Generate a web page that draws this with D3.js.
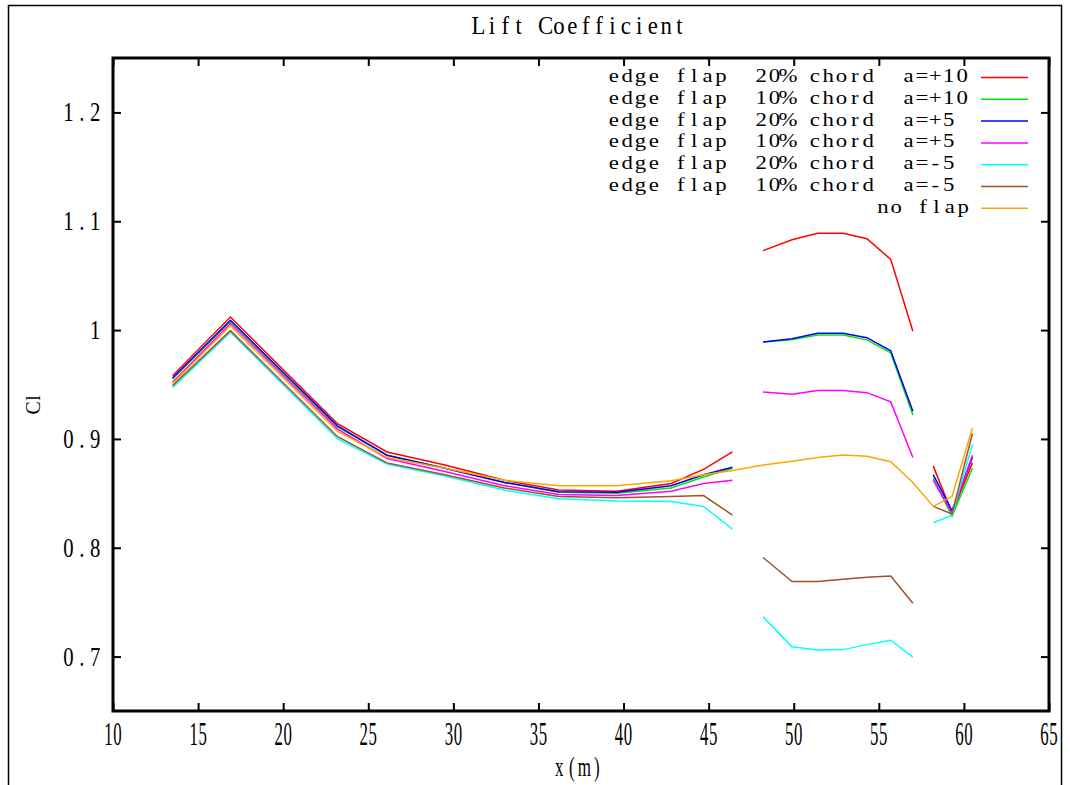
<!DOCTYPE html>
<html>
<head>
<meta charset="utf-8">
<script src="https://cdn.jsdelivr.net/npm/d3@7"></script>
<style>
  html, body { margin: 0; padding: 0; background: #fff; }
  svg { display: block; }
  text { font-family: "Liberation Serif", "DejaVu Serif", serif; fill: #000; white-space: pre; }
</style>
</head>
<body>
<svg id="chart" width="1070" height="785"></svg>
<script>
// Spanwise stations (m): inboard panel, flap panel, tip panel
const stations = [13.5, 16.9, 23.2, 26.1, 29.5, 33.0, 36.2, 39.6, 42.8, 44.7, 46.4,
                  48.2, 49.9, 51.4, 52.9, 54.3, 55.7, 57.0,
                  58.2, 59.3, 60.5];
// panel boundaries: index of the last station of each panel
const panelEnds = [10, 17];

const seriesNames = [
  "edge flap  20% chord  a=+10",
  "edge flap  10% chord  a=+10",
  "edge flap  20% chord  a=+5",
  "edge flap  10% chord  a=+5",
  "edge flap  20% chord  a=-5",
  "edge flap  10% chord  a=-5",
  "no flap"
];
const seriesColors = ["#ff0000", "#00e600", "#0000ff", "#ff00ff", "#00ffff", "#a0522d", "#ffa500"];
// whether the curve runs across the panel boundaries
const seriesContinuous = [false, false, false, false, false, false, true];

const clF20p10 = [0.958, 1.012, 0.914, 0.888, 0.876, 0.862, 0.853, 0.852, 0.859, 0.872, 0.888,
                  1.073, 1.083, 1.089, 1.089, 1.084, 1.065, 0.999,
                  0.875, 0.832, 0.878];
const clF10p10 = [0.955, 1.008, 0.911, 0.885, 0.873, 0.860, 0.851, 0.850, 0.855, 0.865, 0.873,
                  0.989, 0.991, 0.9955, 0.9955, 0.991, 0.979, 0.922,
                  0.864, 0.829, 0.873];
const clF20p5  = [0.956, 1.009, 0.912, 0.885, 0.873, 0.860, 0.8515, 0.851, 0.857, 0.867, 0.874,
                  0.989, 0.992, 0.997, 0.997, 0.993, 0.981, 0.9255,
                  0.867, 0.834, 0.883];
const clF10p5  = [0.952, 1.006, 0.909, 0.882, 0.870, 0.857, 0.849, 0.848, 0.852, 0.859, 0.862,
                  0.943, 0.941, 0.9445, 0.9445, 0.9425, 0.934, 0.883,
                  0.862, 0.832, 0.885];
const clF20m5  = [0.947, 0.998, 0.900, 0.877, 0.866, 0.853, 0.845, 0.843, 0.8425, 0.838, 0.817,
                  0.7365, 0.709, 0.706, 0.7064, 0.711, 0.715, 0.6995,
                  0.823, 0.830, 0.895];
const clF10m5  = [0.949, 0.9995, 0.902, 0.878, 0.867, 0.855, 0.847, 0.846, 0.847, 0.848, 0.830,
                  0.791, 0.769, 0.769, 0.771, 0.773, 0.774, 0.749,
                  0.838, 0.831, 0.905];
const clNoFlap = [0.951, 1.004, 0.907, 0.883, 0.873, 0.862, 0.857, 0.857, 0.8615, 0.867, 0.871,
                  0.876, 0.8795, 0.883, 0.8853, 0.884, 0.879, 0.860,
                  0.838, 0.847, 0.910];
const seriesValues = [clF20p10, clF10p10, clF20p5, clF10p5, clF20m5, clF10m5, clNoFlap];

const xTicks = [10, 15, 20, 25, 30, 35, 40, 45, 50, 55, 60, 65];
const yTicks = [0.7, 0.8, 0.9, 1.0, 1.1, 1.2];
const yTickLabels = ["0.7", "0.8", "0.9", "1", "1.1", "1.2"];

const titleText = "Lift Coefficient";
const xTitle = "x(m)";
const yTitle = "Cl";

// ---- layout ----
const svg = d3.select("#chart");
const plot = { left: 113, top: 58, right: 1049, bottom: 711 };

const x = d3.scaleLinear().domain([10, 65]).range([plot.left, plot.right]);
const y = d3.scaleLinear().domain([0.65, 1.25]).range([plot.bottom, plot.top]);

// Text in fixed-width cells, with glyphs stretched like a plotter font.
function cellText(parent, str, opt) {
  const cell = opt.cell, n = str.length, total = n * cell;
  const sx = opt.sx || 1;
  let start = opt.x;
  if (opt.anchor === "end") start = opt.x - total;
  else if (opt.anchor === "middle") start = opt.x - total / 2;
  const xs = Array.from(str, (c, i) => ((start + cell * (i + 0.5)) / sx).toFixed(2));
  const g = parent.append("g")
    .attr("transform", `translate(0,${opt.y}) scale(${sx},${opt.sy})`);
  g.append("text")
    .attr("x", xs.join(" "))
    .attr("y", 0)
    .attr("text-anchor", "middle")
    .attr("font-size", opt.size)
    .text(str);
  return g;
}

// outer frame
svg.append("rect")
  .attr("x", 8.5).attr("y", 5.5)
  .attr("width", 1053).attr("height", 800)
  .attr("fill", "none").attr("stroke", "#000").attr("stroke-width", 1.5);

// title
cellText(svg, titleText, { x: 579, y: 34, cell: 13.4, size: 19, sx: 1.2, sy: 1.3, anchor: "middle" });

// ---- curves ----
const clipId = "plot-clip";
svg.append("clipPath").attr("id", clipId)
  .append("rect")
  .attr("x", plot.left).attr("y", plot.top)
  .attr("width", plot.right - plot.left).attr("height", plot.bottom - plot.top);

const line = d3.line()
  .defined(d => d !== null)
  .x(d => x(d[0]))
  .y(d => y(d[1]));

const curves = svg.append("g").attr("clip-path", `url(#${clipId})`);
seriesValues.forEach((vals, s) => {
  const pts = [];
  vals.forEach((v, i) => {
    pts.push([stations[i], v]);
    if (!seriesContinuous[s] && panelEnds.includes(i)) pts.push(null);
  });
  curves.append("path")
    .datum(pts)
    .attr("fill", "none")
    .attr("stroke", seriesColors[s])
    .attr("stroke-width", 1.5)
    .attr("stroke-linejoin", "miter")
    .attr("d", line);
});

// ---- axes (ticks point inward on all four sides) ----
const tick = 8;
svg.append("g").attr("transform", `translate(0,${plot.bottom})`)
  .call(d3.axisBottom(x).tickValues(xTicks).tickSize(-tick).tickFormat(""));
svg.append("g").attr("transform", `translate(0,${plot.top})`)
  .call(d3.axisTop(x).tickValues(xTicks).tickSize(-tick).tickFormat(""));
svg.append("g").attr("transform", `translate(${plot.left},0)`)
  .call(d3.axisLeft(y).tickValues(yTicks).tickSize(-tick).tickFormat(""));
svg.append("g").attr("transform", `translate(${plot.right},0)`)
  .call(d3.axisRight(y).tickValues(yTicks).tickSize(-tick).tickFormat(""));
svg.selectAll(".domain").remove();
svg.selectAll(".tick line").attr("stroke", "#000").attr("stroke-width", 2);

// plot frame
svg.append("rect")
  .attr("x", plot.left).attr("y", plot.top)
  .attr("width", plot.right - plot.left).attr("height", plot.bottom - plot.top)
  .attr("fill", "none").attr("stroke", "#000").attr("stroke-width", 3);

// tick labels
xTicks.forEach(v => {
  cellText(svg, String(v), { x: x(v), y: 745, cell: 9, size: 16, sx: 1.05, sy: 2.1, anchor: "middle" });
});
yTicks.forEach((v, i) => {
  cellText(svg, yTickLabels[i], { x: 102, y: y(v) + 9, cell: 13.4, size: 18, sx: 1.15, sy: 1.5, anchor: "end" });
});

// axis titles
cellText(svg, xTitle, { x: 578, y: 776, cell: 12.5, size: 17, sx: 1.0, sy: 1.6, anchor: "middle" });
const yt = svg.append("g").attr("transform", "translate(40,403) rotate(-90)");
cellText(yt, yTitle, { x: 0, y: 0, cell: 10, size: 18, sx: 1.1, sy: 1.2, anchor: "middle" });

// ---- legend ----
const legend = svg.append("g");
seriesNames.forEach((name, i) => {
  const base = 82 + 21.8 * i;
  if (seriesContinuous[i]) {
    cellText(legend, name, { x: 970, y: base, cell: 13.4, size: 19, sx: 1.2, sy: 1.02, anchor: "end" });
  } else {
    cellText(legend, name, { x: 607, y: base, cell: 13.4, size: 19, sx: 1.2, sy: 1.02, anchor: "start" });
  }
  legend.append("line")
    .attr("x1", 981).attr("x2", 1028)
    .attr("y1", base - 4.5).attr("y2", base - 4.5)
    .attr("stroke", seriesColors[i]).attr("stroke-width", 1.5);
});
</script>
</body>
</html>
